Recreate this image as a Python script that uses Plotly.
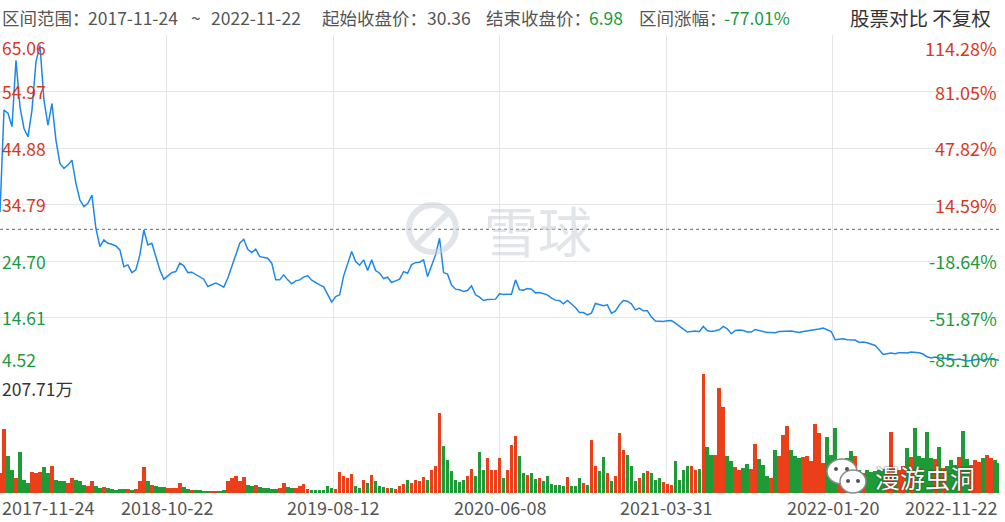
import plotly.graph_objects as go

# ---------------- data ----------------
start_date = "2017-11-24"
end_date = "2022-11-22"
start_close = 30.36
end_close = 6.98
period_change = "-77.01%"

close = [
    33.45, 51.64, 51.10, 48.66, 60.55, 52.22, 48.37, 46.88, 51.64, 60.25, 63.2, 53.42, 48.96, 52.83, 46.29, 42.13,
    41.24, 41.83, 42.72, 38.57, 35.59, 34.40, 35.00, 36.48, 30.55, 27.27, 28.46, 27.87, 27.69, 27.39, 26.68, 23.70,
    24.00, 22.63, 23.11, 25.79, 30.24, 27.57, 27.87, 25.48, 23.11, 21.45, 22.04, 22.63, 22.81, 24.31, 23.83, 22.63,
    22.70, 22.28, 21.92, 21.45, 20.14, 20.44, 20.74, 20.44, 20.03, 21.63, 23.59, 25.79, 27.87, 28.59, 26.80,
    26.20, 26.80, 25.48, 25.31, 25.20, 24.31, 21.33, 21.33, 22.22, 21.33, 20.62, 21.15, 21.33, 21.81, 22.10, 21.28,
    20.80, 20.44, 20.08, 18.66, 17.35, 18.35, 18.66, 22.04, 24.31, 26.38, 24.59, 23.95, 24.90, 22.99, 24.90, 22.99,
    22.52, 21.56, 21.81, 20.85, 21.15, 21.45, 22.81, 22.52, 24.06, 24.41, 24.49, 24.90, 21.92, 23.83, 25.79, 28.76,
    22.63, 22.35, 20.39, 19.67, 19.55, 19.24, 19.42, 20.26, 18.66, 18.25, 17.64, 17.82, 17.82, 17.89,
    18.83, 18.71, 18.78, 18.78, 21.33, 19.55, 19.50, 19.78, 19.67, 19.01, 19.06, 18.89, 18.66, 18.07, 17.71, 17.64,
    17.05, 17.64, 16.99, 16.39, 15.50, 15.50, 15.09, 15.39, 17.11, 16.93, 16.70, 16.87, 15.39, 15.75, 16.87, 17.64,
    17.53, 17.05, 15.98, 16.28, 15.81, 15.81, 14.73, 13.97, 13.90, 13.90, 14.02, 14.07, 13.61, 13.01, 12.54, 12.01,
    12.12, 12.19, 12.06, 13.01, 12.29, 12.12, 12.24, 12.42, 13.01, 12.60, 11.70, 12.29, 12.36, 12.29, 12.01,
    12.01, 12.47, 12.29, 12.01, 11.94, 11.94, 11.88, 12.11, 12.11, 12.24, 12.19, 12.06, 11.94, 12.11, 12.19, 12.29,
    12.42, 12.54, 12.72, 12.42, 12.11, 10.63, 10.76, 10.81, 10.63, 10.58, 10.58, 10.15, 10.22, 10.10, 9.92, 9.62,
    8.85, 8.01, 8.14, 8.26, 8.14, 8.32, 8.32, 8.26, 8.44, 8.37, 8.32, 8.09, 7.60, 7.37, 7.55, 7.37,
    7.37, 7.30, 7.19, 7.07, 7.19, 6.94, 6.83, 6.94, 7.12, 7.19, 6.94, 7.19, 7.24, 7.07, 6.98,
]

# volume in 万 (10k shares)
volume_wan = [
    34.8, 111.4, 63.8, 40.6, 26.1, 70.8, 23.2, 17.4, 36.0, 34.8, 36.0, 44.7, 34.8, 46.4, 23.2, 20.3,
    20.3, 17.4, 26.1, 23.2, 20.3, 14.5, 11.6, 20.3, 11.6, 8.7, 10.4, 8.7, 7.0, 5.8, 7.0, 7.0,
    7.0, 5.8, 7.5, 20.3, 45.3, 20.3, 14.5, 11.6, 9.9, 10.4, 8.7, 8.7, 8.7, 17.4, 10.4, 7.0,
    5.8, 4.6, 4.6, 4.1, 4.1, 3.5, 3.5, 3.5, 5.8, 20.3, 26.1, 29.0, 20.3, 27.9, 14.5,
    12.8, 14.5, 10.4, 8.7, 8.7, 7.5, 7.5, 8.7, 17.4, 9.9, 8.1, 8.7, 11.6, 16.3, 7.5, 5.8,
    4.6, 5.2, 5.8, 11.6, 8.7, 7.5, 36.0, 30.2, 26.1, 33.7, 12.8, 8.7, 23.2, 17.4, 31.9, 20.3,
    12.8, 10.4, 8.7, 8.7, 7.5, 11.6, 16.3, 23.2, 17.4, 23.2, 20.3, 27.9, 23.2, 40.6, 46.4, 139.3,
    82.4, 56.9, 37.7, 22.1, 18.6, 23.2, 29.0, 41.8, 29.0, 70.8, 40.6, 60.9, 40.6, 40.6,
    60.9, 26.1, 40.6, 84.2, 98.7, 63.8, 34.8, 31.9, 34.8, 24.4, 26.1, 20.3, 30.2, 15.7, 14.5, 14.5,
    11.6, 27.9, 11.6, 11.6, 26.1, 17.4, 14.5, 91.7, 46.4, 37.7, 62.7, 34.8, 20.3, 29.0, 104.5, 75.5,
    66.7, 46.4, 20.3, 26.1, 34.8, 37.7, 34.8, 23.2, 26.1, 18.6, 16.3, 14.5, 55.1, 23.2, 40.6, 46.4,
    46.4, 40.6, 41.8, 207.71, 80.0, 66.7, 66.7, 182.8, 150.9, 65.0, 55.1, 45.3, 40.6, 43.5, 50.5,
    41.8, 85.9, 59.2, 49.3, 29.0, 26.1, 75.5, 63.8, 101.6, 116.1, 75.5, 65.0, 60.9, 62.7, 65.0, 55.1,
    120.7, 104.5, 52.2, 97.5, 66.7, 113.2, 46.4, 41.8, 60.9, 72.6, 65.0, 40.6, 34.8, 39.5, 36.0, 37.7,
    40.6, 42.4, 38.9, 106.2, 43.5, 40.6, 46.4, 78.4, 62.7, 113.2, 63.8, 60.9, 106.2, 60.9, 59.2, 79.5,
    43.5, 46.4, 58.0, 49.3, 62.7, 107.4, 59.2, 49.3, 58.0, 53.4, 60.9, 66.7, 60.9, 58.0, 52.2,
]

price_ticks = [65.06, 54.97, 44.88, 34.79, 24.70, 14.61, 4.52]
pct_ticks = ["114.28%", "81.05%", "47.82%", "14.59%", "-18.64%", "-51.87%", "-85.10%"]
date_ticks = ["2017-11-24", "2018-10-22", "2019-08-12", "2020-06-08", "2021-03-31", "2022-01-20", "2022-11-22"]
vol_max = 207.71

# ---------------- styling ----------------
FONT = "Noto Sans CJK SC, Noto Sans, sans-serif"
RED_TXT = "#d63a1e"
GREEN_TXT = "#1b9a40"
RED_BAR = "#ea3f19"
GREEN_BAR = "#1e9a36"
LINE = "#1e88e8"
GRID = "#e3e5e8"
GREY = "#555555"
FS = 17.5

W, H = 1005, 522
ML, MR, MT, MB = 0, 6, 35, 29
PW = W - ML - MR
PH = H - MT - MB
split = 119 / PH


def pxx(px):
    return px / PW


def pxy(py):
    return 1 - (py - MT) / PH


n = len(close)
idx = list(range(n))
prev = [start_close] + close[:-1]
bar_colors = [RED_BAR if c >= p else GREEN_BAR for c, p in zip(close, prev)]
grid_x = [(n - 1) * k / 6 for k in range(7)]

fig = go.Figure()
fig.add_trace(go.Bar(x=idx, y=volume_wan, marker=dict(color=bar_colors, line=dict(width=0)),
                     width=0.9, xaxis="x2", yaxis="y2", hoverinfo="skip"))
fig.add_trace(go.Scatter(x=idx, y=close, mode="lines", line=dict(color=LINE, width=1.5),
                         xaxis="x", yaxis="y", hoverinfo="skip"))

annotations = []
# header
hdr_y = pxy(17)
hdr = [
    (0, "区间范围：", GREY),
    (86, start_date, GREY),
    (189, "~", GREY),
    (209, end_date, GREY),
    (320, f"起始收盘价：{start_close:.2f}", GREY),
    (484, "结束收盘价：", GREY),
    (587, f"{end_close:.2f}", GREEN_TXT),
    (637, "区间涨幅：", GREY),
    (722, period_change, GREEN_TXT),
]
for px, txt, col in hdr:
    annotations.append(dict(x=pxx(px), y=hdr_y, xref="paper", yref="paper", xanchor="left", yanchor="middle",
                            text=txt, showarrow=False, font=dict(family=FONT, size=FS, color=col)))
annotations.append(dict(x=pxx(993), y=hdr_y, xref="paper", yref="paper", xanchor="right", yanchor="middle",
                        text="股票对比 不复权", showarrow=False, font=dict(family=FONT, size=19.5, color="#333333")))

# price and percent labels
for i, (p, pct) in enumerate(zip(price_ticks, pct_ticks)):
    col = RED_TXT if p >= start_close else GREEN_TXT
    if i == 0:
        ya, ys = "top", 2
    elif i == len(price_ticks) - 1:
        ya, ys = "bottom", 0
    else:
        ya, ys = "middle", 0
    annotations.append(dict(x=0, y=p, xref="paper", yref="y", xanchor="left", yanchor=ya, yshift=ys,
                            text=f"{p:.2f}", showarrow=False, font=dict(family=FONT, size=FS, color=col)))
    annotations.append(dict(x=1, y=p, xref="paper", yref="y", xanchor="right", yanchor=ya, yshift=ys,
                            text=pct, showarrow=False, font=dict(family=FONT, size=FS + 0.5, color=col)))

# volume max label
annotations.append(dict(x=0, y=vol_max, xref="paper", yref="y2", xanchor="left", yanchor="top",
                        text=f"{vol_max:.2f}万", showarrow=False, font=dict(family=FONT, size=FS, color="#333333")))

# date labels
for k, d in enumerate(date_ticks):
    xa = "left" if k == 0 else ("right" if k == len(date_ticks) - 1 else "center")
    annotations.append(dict(x=grid_x[k], y=pxy(507), xref="x2", yref="paper", xanchor=xa, yanchor="middle",
                            text=d, showarrow=False, font=dict(family=FONT, size=18, color=GREY)))

# watermarks
WM = "rgba(200,205,213,0.55)"
annotations.append(dict(x=pxx(538), y=pxy(229), xref="paper", yref="paper", xanchor="center", yanchor="middle",
                        text="雪球", showarrow=False, font=dict(family=FONT, size=54, color=WM)))
annotations.append(dict(x=pxx(873), y=pxy(477), xref="paper", yref="paper", xanchor="left", yanchor="middle",
                        text="漫游虫洞", showarrow=False,
                        font=dict(family=FONT, size=25, color="white", shadow="0px 0px 2px #222")))

shapes = [
    dict(type="line", xref="paper", yref="y", x0=0, x1=1, y0=start_close, y1=start_close,
         line=dict(color="#666666", width=1, dash="3px,3px")),
    # xueqiu logo
    dict(type="circle", xref="paper", yref="paper", x0=pxx(409), x1=pxx(456), y0=pxy(252), y1=pxy(205),
         line=dict(color=WM, width=6)),
    dict(type="line", xref="paper", yref="paper", x0=pxx(418), x1=pxx(447), y0=pxy(243), y1=pxy(214),
         line=dict(color=WM, width=6)),
    # wechat-like bubbles
    dict(type="circle", xref="paper", yref="paper", x0=pxx(827), x1=pxx(857), y0=pxy(484), y1=pxy(459),
         fillcolor="white", line=dict(color="#8a8a8a", width=1.5)),
    dict(type="circle", xref="paper", yref="paper", x0=pxx(840), x1=pxx(866), y0=pxy(493), y1=pxy(470),
         fillcolor="white", line=dict(color="#8a8a8a", width=1.5)),
]
for cx, cy in [(836, 469), (847, 469), (848, 481), (858, 481)]:
    shapes.append(dict(type="circle", xref="paper", yref="paper", x0=pxx(cx - 2), x1=pxx(cx + 2),
                       y0=pxy(cy + 2), y1=pxy(cy - 2), fillcolor="#555555", line=dict(width=0)))

axis_common = dict(showticklabels=False, ticks="", zeroline=False, showline=False)
fig.update_layout(
    width=W, height=H, autosize=False,
    margin=dict(l=ML, r=MR, t=MT, b=MB, pad=0),
    paper_bgcolor="white", plot_bgcolor="white",
    showlegend=False, hovermode=False, bargap=0,
    template="none",
    xaxis=dict(domain=[0, 1], anchor="y", range=[0, n - 1], tickmode="array", tickvals=grid_x,
               showgrid=True, gridcolor=GRID, gridwidth=1, **axis_common),
    yaxis=dict(domain=[split, 1], anchor="x", range=[price_ticks[-1], price_ticks[0]], tickmode="array",
               tickvals=price_ticks, showgrid=True, gridcolor=GRID, gridwidth=1, **axis_common),
    xaxis2=dict(domain=[0, 1], anchor="y2", matches="x", tickmode="array", tickvals=grid_x,
                showgrid=True, gridcolor=GRID, gridwidth=1, **axis_common),
    yaxis2=dict(domain=[0, split], anchor="x2", range=[0, vol_max], showgrid=False, **axis_common),
    annotations=annotations,
    shapes=shapes,
)

fig.write_html("out.html", post_script="document.body.style.margin='0px';",
               config={"displayModeBar": False})
